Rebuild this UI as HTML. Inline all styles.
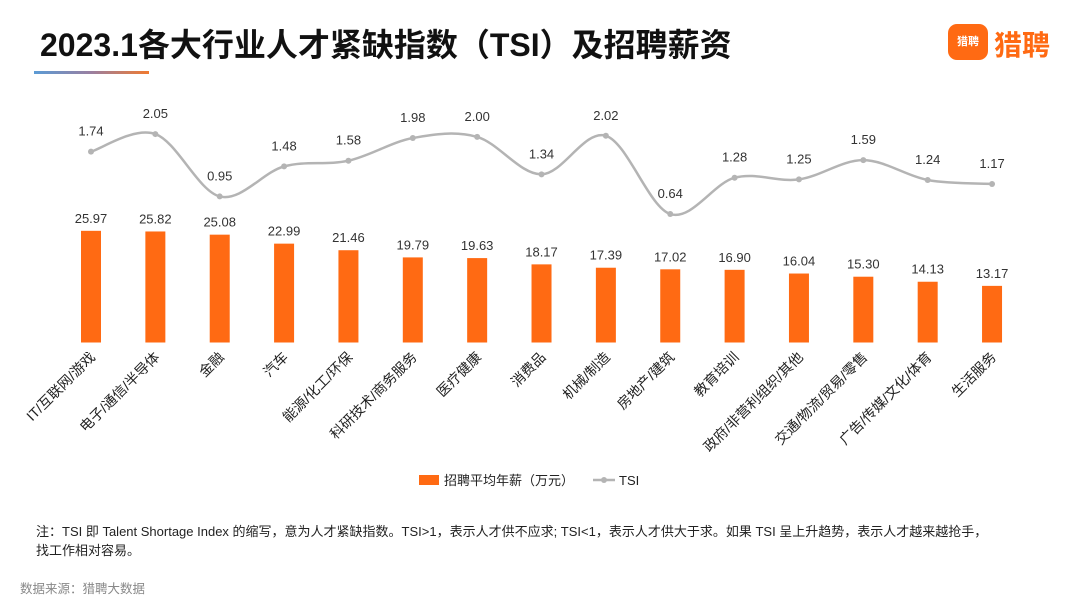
<!DOCTYPE html>
<html><head><meta charset="utf-8">
<style>
body{margin:0;width:1080px;height:608px;background:#fff;overflow:hidden;font-family:"Liberation Sans","Noto Sans CJK SC",sans-serif;position:relative}
.title{position:absolute;left:40px;top:20px;font-size:32px;font-weight:bold;color:#111;letter-spacing:0px}
.uline{position:absolute;left:34px;top:71px;width:115px;height:3px;background:linear-gradient(90deg,#5b9bd5,#9a7fa0,#f07a30)}
.logo{position:absolute;left:948px;top:24px;width:40px;height:36px;background:#ff6a13;border-radius:9px;color:#fff;font-size:11px;font-weight:bold;text-align:center;line-height:36px}
.logotxt{position:absolute;left:994px;top:24px;font-size:28px;font-weight:bold;color:#ff6a13}
.note{position:absolute;left:36px;top:522px;font-size:13px;color:#222;line-height:19px;width:1000px}
.src{position:absolute;left:20px;top:578px;font-size:12.5px;color:#888}
</style></head><body>
<div class="title">2023.1各大行业人才紧缺指数（TSI）及招聘薪资</div>
<div class="uline"></div>
<div class="logo">猎聘</div>
<div class="logotxt">猎聘</div>
<svg id="chart" width="1080" height="500" style="position:absolute;left:0;top:0"></svg>
<div class="note">注：TSI 即 Talent Shortage Index 的缩写，意为人才紧缺指数。TSI&gt;1，表示人才供不应求; TSI&lt;1，表示人才供大于求。如果 TSI 呈上升趋势，表示人才越来越抢手，<br>找工作相对容易。</div>
<div class="src">数据来源：猎聘大数据</div>
<script>
const categories=["IT/互联网/游戏","电子/通信/半导体","金融","汽车","能源/化工/环保","科研技术/商务服务","医疗健康","消费品","机械/制造","房地产/建筑","教育培训","政府/非营利组织/其他","交通/物流/贸易/零售","广告/传媒/文化/体育","生活服务"];
const salary=[25.97,25.82,25.08,22.99,21.46,19.79,19.63,18.17,17.39,17.02,16.90,16.04,15.30,14.13,13.17];
const tsi=[1.74,2.05,0.95,1.48,1.58,1.98,2.00,1.34,2.02,0.64,1.28,1.25,1.59,1.24,1.17];
const NS="http://www.w3.org/2000/svg";
const svg=document.getElementById('chart');
function mk(t,a,p){const e=document.createElementNS(NS,t);for(const k in a)e.setAttribute(k,a[k]);(p||svg).appendChild(e);return e;}
const xS=i=>91+i*64.36;
const yBar=v=>342.5-v*4.3;
const yT=v=>250.3-v*56.7;
salary.forEach((v,i)=>{
  const r=mk('rect',{x:xS(i)-10,y:yBar(v),width:20,height:342.5-yBar(v),fill:'#ff6a13'});
  
  
  const t=mk('text',{x:xS(i),y:yBar(v)-8,'text-anchor':'middle','font-size':13,fill:'#333'});
  t.textContent=v.toFixed(2);
  
  
  const c=mk('text',{x:0,y:0,'text-anchor':'end','font-size':14,fill:'#222',transform:`translate(${xS(i)+5},${358}) rotate(-45)`});
  c.textContent=categories[i];
  
  
});
const pts=tsi.map((v,i)=>[xS(i),yT(v)]);
let d=`M${pts[0][0]},${pts[0][1]}`;
for(let i=0;i<pts.length-1;i++){
  const p0=pts[Math.max(0,i-1)],p1=pts[i],p2=pts[i+1],p3=pts[Math.min(pts.length-1,i+2)];
  const k=6;
  d+=` C${p1[0]+(p2[0]-p0[0])/k},${p1[1]+(p2[1]-p0[1])/k} ${p2[0]-(p3[0]-p1[0])/k},${p2[1]-(p3[1]-p1[1])/k} ${p2[0]},${p2[1]}`;
}
const line=mk('path',{d:d,fill:'none',stroke:'#b4b4b4','stroke-width':2.5});


tsi.forEach((v,i)=>{
  const c=mk('circle',{cx:xS(i),cy:yT(v),r:3,fill:'#b4b4b4'});
  
  
  const t=mk('text',{x:xS(i),y:yT(v)-16,'text-anchor':'middle','font-size':13,fill:'#333'});
  t.textContent=v.toFixed(2);
  
  
});
const lg=mk('g',{});


mk('rect',{x:419,y:475,width:20,height:10,fill:'#ff6a13'},lg);
const l1=mk('text',{x:444,y:485,'font-size':13,fill:'#222'},lg);l1.textContent='招聘平均年薪（万元）';
mk('line',{x1:593,y1:480,x2:615,y2:480,stroke:'#b4b4b4','stroke-width':2.5},lg);
mk('circle',{cx:604,cy:480,r:3,fill:'#b4b4b4'},lg);
const l2=mk('text',{x:619,y:485,'font-size':13,fill:'#222'},lg);l2.textContent='TSI';
</script>
</body></html>
